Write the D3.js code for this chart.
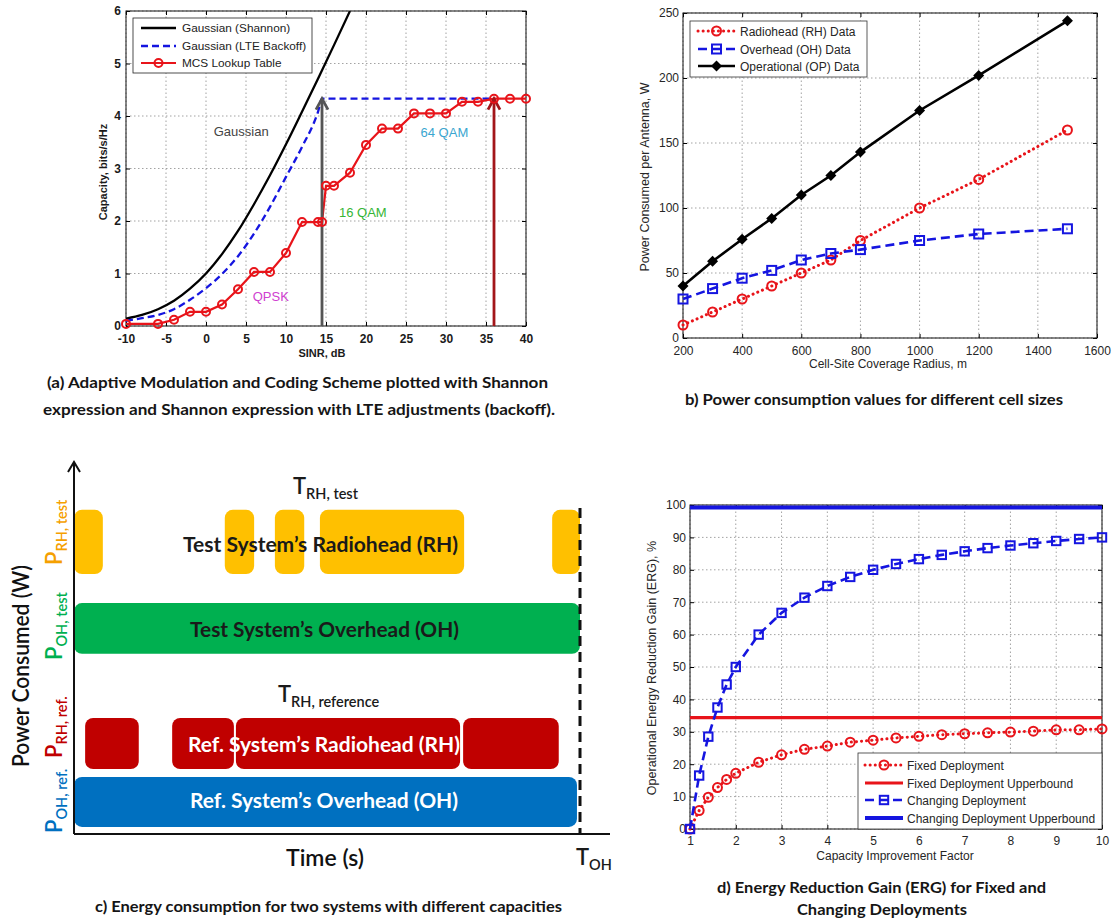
<!DOCTYPE html>
<html><head><meta charset="utf-8">
<script src="https://cdn.jsdelivr.net/npm/d3@7"></script>
<style>
body{margin:0;background:#fff;}
svg{display:block;}
</style></head>
<body><svg id="fig" width="1114" height="923"></svg>
<script>
// ---------- (a) capacity vs SINR ----------
const sinrTicks = [-10,-5,0,5,10,15,20,25,30,35,40];
const capTicks = [0,1,2,3,4,5,6];
const shannonSinr = [-10,-8,-6,-4,-2,0,2,4,6,8,10,12,14,16,18];
const shannonCap  = [0.14,0.21,0.32,0.48,0.71,1.0,1.37,1.81,2.32,2.87,3.46,4.08,4.71,5.35,6.0];
const lteSinr = [-10,-8,-6,-4,-2,0,2,4,6,8,10,12,14,14.5,36];
const lteCap  = [0.10,0.15,0.21,0.32,0.5,0.72,0.99,1.33,1.76,2.27,2.84,3.41,4.08,4.33,4.33];
const mcsSinr = [-10,-6,-4,-2,0,2,4,6,8,10,12,14,14.5,15,16,18,20,22,24,26,28,30,32,34,36,38,40];
const mcsCap  = [0.04,0.04,0.12,0.27,0.27,0.41,0.70,1.03,1.03,1.39,1.98,1.98,1.98,2.67,2.67,2.92,3.45,3.76,3.76,4.05,4.05,4.05,4.27,4.27,4.33,4.33,4.33];
const switchPoints = [14.5, 36];           // SINR where the capped curves level off
const switchCap = 4.33;
const modLabels = [
  {text:"Gaussian", sinr:4.4, cap:3.7, color:"#444"},
  {text:"QPSK", sinr:8.1, cap:0.57, color:"#d040d0"},
  {text:"16 QAM", sinr:19.6, cap:2.17, color:"#35b535"},
  {text:"64 QAM", sinr:29.8, cap:3.68, color:"#3aa6d0"}
];
const legendA = ["Gaussian (Shannon)","Gaussian (LTE Backoff)","MCS Lookup Table"];

// ---------- (b) power vs cell radius ----------
const radius = [200,300,400,500,600,700,800,1000,1200,1500];
const rhPower = [10,20,30,40,50,60,75,100,122,160];
const ohPower = [30,38,46,52,60,65,68,75,80,84];
const opPower = [40,59,76,92,110,125,143,175,202,244];
const radiusTicks = [200,400,600,800,1000,1200,1400,1600];
const powerTicks = [0,50,100,150,200,250];
const legendB = ["Radiohead (RH) Data","Overhead (OH) Data","Operational (OP) Data"];

// ---------- (c) on-times of the two systems ----------
const tOH = 100;
const rhTestOn = [[0,5.7],[29.8,35.6],[39.7,45.5],[48.6,77.1],[94.5,100]];
const ohTestOn = [[0,100]];
const rhRefOn  = [[2.2,12.8],[19.4,31.6],[32.0,76.3],[76.9,95.8]];
const ohRefOn  = [[0,99.4]];
const rowLevels = {rhTest:[69.7,86.9], ohTest:[48.3,61.9], rhRef:[17.4,31.1], ohRef:[1.9,15.3]};

// ---------- (d) ERG vs capacity improvement ----------
const capFactor = [1,1.2,1.4,1.6,1.8,2,2.5,3,3.5,4,4.5,5,5.5,6,6.5,7,7.5,8,8.5,9,9.5,10];
const ergFixed  = [0,5.7,9.8,12.8,15.3,17.2,20.6,22.9,24.6,25.6,26.8,27.4,28.1,28.6,29.1,29.4,29.7,29.9,30.2,30.6,30.6,30.9];
const ergChanging = [0,16.5,28.5,37.5,44.6,50,60,66.7,71.4,75,77.8,80,81.8,83.3,84.6,85.7,86.7,87.5,88.2,88.9,89.5,90];
const ergFixedBound = 34.4;
const ergChangingBound = 99.2;
const factorTicks = [1,2,3,4,5,6,7,8,9,10];
const ergTicks = [0,10,20,30,40,50,60,70,80,90,100];
const legendD = ["Fixed Deployment","Fixed Deployment Upperbound","Changing Deployment","Changing Deployment Upperbound"];

const svg = d3.select("#fig");
const AX_FONT = "Arial, 'Liberation Sans', Helvetica, sans-serif";
const CAP_FONT = "Lato, 'Open Sans', sans-serif";
const RED = "#e8141a", BLUE = "#1515e0";
const plain = d => String(d);

// MATLAB-style axes: dotted grid, inward ticks on all four sides, boxed frame
function matlabAxes(g, x, y, xTicks, yTicks, o) {
  const [x0,x1] = x.range(), [y0,y1] = y.range();
  const grid = g.append("g").attr("stroke","#8c8c8c").attr("stroke-width",0.8).attr("stroke-dasharray","1.5,2.5");
  grid.selectAll(".gx").data(xTicks).join("line")
    .attr("x1",d=>x(d)).attr("x2",d=>x(d)).attr("y1",y0).attr("y2",y1);
  grid.selectAll(".gy").data(yTicks).join("line")
    .attr("y1",d=>y(d)).attr("y2",d=>y(d)).attr("x1",x0).attr("x2",x1);
  const style = s => s.call(a=>a.select(".domain").remove())
    .call(a=>a.selectAll("text").attr("font-family",AX_FONT).attr("font-size",o.fs)
      .attr("font-weight",o.bold?"bold":"normal").attr("fill",o.color));
  g.append("g").attr("transform",`translate(0,${y0})`)
    .call(d3.axisBottom(x).tickValues(xTicks).tickFormat(plain).tickSizeInner(-4).tickSizeOuter(0).tickPadding(o.xpad)).call(style);
  g.append("g").attr("transform",`translate(${x0},0)`)
    .call(d3.axisLeft(y).tickValues(yTicks).tickFormat(plain).tickSizeInner(-4).tickSizeOuter(0).tickPadding(o.ypad)).call(style);
  g.append("g").attr("transform",`translate(0,${y1})`)
    .call(d3.axisTop(x).tickValues(xTicks).tickSizeInner(-4).tickSizeOuter(0).tickFormat("")).call(style);
  g.append("g").attr("transform",`translate(${x1},0)`)
    .call(d3.axisRight(y).tickValues(yTicks).tickSizeInner(-4).tickSizeOuter(0).tickFormat("")).call(style);
  g.append("rect").attr("x",x0).attr("y",y1).attr("width",x1-x0).attr("height",y0-y1)
    .attr("fill","none").attr("stroke","#111").attr("stroke-width",1);
}

function axisLabel(g, text, x, y, rot, fs, bold, color) {
  g.append("text").attr("transform",`translate(${x},${y}) rotate(${rot})`)
    .attr("text-anchor","middle").attr("font-family",AX_FONT).attr("font-size",fs)
    .attr("font-weight",bold?"bold":"normal").attr("fill",color).text(text);
}

function caption(text, x0, x1, baseline) {
  svg.append("text").attr("x",(x0+x1)/2).attr("y",baseline).attr("text-anchor","middle")
    .attr("font-family",CAP_FONT).attr("font-weight","bold").attr("font-size",15.5).attr("fill","#151515")
    .attr("textLength",x1-x0).attr("lengthAdjust","spacingAndGlyphs").text(text);
}

function marker(g, kind, cx, cy, color, size) {
  if (kind==="circle") g.append("circle").attr("cx",cx).attr("cy",cy).attr("r",size)
      .attr("fill","none").attr("stroke",color).attr("stroke-width",2);
  else if (kind==="square") g.append("rect").attr("x",cx-size).attr("y",cy-size)
      .attr("width",2*size).attr("height",2*size).attr("fill","none").attr("stroke",color).attr("stroke-width",2);
  else if (kind==="diamond") g.append("path")
      .attr("d",`M${cx},${cy-size}L${cx+size},${cy}L${cx},${cy+size}L${cx-size},${cy}Z`).attr("fill",color);
}

// ============ (a) ============
{
  const g = svg.append("g");
  const x = d3.scaleLinear().domain([-10,40]).range([126,526]);
  const y = d3.scaleLinear().domain([0,6]).range([326,11]);
  matlabAxes(g,x,y,sinrTicks,capTicks,{fs:12,bold:true,color:"#1a1a1a",xpad:8,ypad:5});
  axisLabel(g,"Capacity, bits/s/Hz",107,172,-90,11,true,"#1a1a1a");
  axisLabel(g,"SINR, dB",322,357,0,11,true,"#1a1a1a");

  svg.append("defs").append("clipPath").attr("id","clipA")
    .append("rect").attr("x",126).attr("y",11).attr("width",400).attr("height",315);
  const plot = g.append("g").attr("clip-path","url(#clipA)");
  const smooth = d3.line().x(d=>x(d[0])).y(d=>y(d[1])).curve(d3.curveMonotoneX);
  plot.append("path").datum(d3.zip(shannonSinr,shannonCap))
    .attr("d",smooth).attr("fill","none").attr("stroke","#000").attr("stroke-width",2.3);
  plot.append("path").datum(d3.zip(lteSinr,lteCap))
    .attr("d",smooth).attr("fill","none").attr("stroke",BLUE).attr("stroke-width",2.3).attr("stroke-dasharray","7,4");

  // switching arrows
  const arrowColors = ["#555","#a3161a"];
  switchPoints.forEach((s,i)=>{
    const ax = x(s), top = y(switchCap), bot = y(0);
    g.append("line").attr("x1",ax).attr("x2",ax).attr("y1",bot).attr("y2",top+1)
      .attr("stroke",arrowColors[i]).attr("stroke-width",2.8);
    g.append("path").attr("d",`M${ax-6},${top+11}L${ax},${top}L${ax+6},${top+11}`)
      .attr("fill","none").attr("stroke",arrowColors[i]).attr("stroke-width",2.8);
  });

  plot.append("path").datum(d3.zip(mcsSinr,mcsCap))
    .attr("d",d3.line().x(d=>x(d[0])).y(d=>y(d[1])))
    .attr("fill","none").attr("stroke",RED).attr("stroke-width",2.2);
  const mg = g.append("g");
  d3.zip(mcsSinr,mcsCap).forEach(d=>marker(mg,"circle",x(d[0]),y(d[1]),RED,4));

  modLabels.forEach(m=>g.append("text").attr("x",x(m.sinr)).attr("y",y(m.cap)+4.5)
    .attr("text-anchor","middle").attr("font-family",AX_FONT).attr("font-size",13).attr("fill",m.color).text(m.text));

  // legend
  const lg = g.append("g");
  lg.append("rect").attr("x",133).attr("y",18).attr("width",179).attr("height",55)
    .attr("fill","#fff").attr("stroke","#222").attr("stroke-width",0.8);
  const ly = [28,46,63];
  lg.append("line").attr("x1",141).attr("x2",176).attr("y1",ly[0]).attr("y2",ly[0]).attr("stroke","#000").attr("stroke-width",2.3);
  lg.append("line").attr("x1",141).attr("x2",176).attr("y1",ly[1]).attr("y2",ly[1]).attr("stroke",BLUE).attr("stroke-width",2.3).attr("stroke-dasharray","7,4");
  lg.append("line").attr("x1",141).attr("x2",176).attr("y1",ly[2]).attr("y2",ly[2]).attr("stroke",RED).attr("stroke-width",2.2);
  marker(lg,"circle",158.5,ly[2],RED,4);
  legendA.forEach((t,i)=>lg.append("text").attr("x",182).attr("y",ly[i]+4).attr("font-family",AX_FONT)
    .attr("font-size",11.8).attr("fill","#222").text(t));
}

// ============ (b) ============
{
  const g = svg.append("g");
  const x = d3.scaleLinear().domain([200,1600]).range([683,1097]);
  const y = d3.scaleLinear().domain([0,250]).range([338,13]);
  matlabAxes(g,x,y,radiusTicks,powerTicks,{fs:12,bold:false,color:"#262626",xpad:8,ypad:4});
  axisLabel(g,"Power Consumed per Antenna, W",649,177,-90,12.5,false,"#262626");
  axisLabel(g,"Cell-Site Coverage Radius, m",888,368,0,12,false,"#262626");
  const line = d3.line().x(d=>x(d[0])).y(d=>y(d[1]));
  const series = [
    {vals:rhPower,color:RED,dash:"0.1,5",cap:"round",kind:"circle",size:4.5,w:3},
    {vals:ohPower,color:BLUE,dash:"9,5",cap:"butt",kind:"square",size:4.5,w:2.6},
    {vals:opPower,color:"#000",dash:null,cap:"butt",kind:"diamond",size:5.5,w:2.6}
  ];
  series.forEach(s=>{
    g.append("path").datum(d3.zip(radius,s.vals)).attr("d",line).attr("fill","none")
      .attr("stroke",s.color).attr("stroke-width",s.w).attr("stroke-linecap",s.cap)
      .attr("stroke-dasharray",s.dash);
    const mg = g.append("g");
    d3.zip(radius,s.vals).forEach(d=>marker(mg,s.kind,x(d[0]),y(d[1]),s.color,s.size));
  });
  // legend
  const lg = g.append("g");
  lg.append("rect").attr("x",690).attr("y",21).attr("width",177).attr("height",56)
    .attr("fill","#fff").attr("stroke","#333").attr("stroke-width",0.8);
  const ly = [31,49,66];
  series.forEach((s,i)=>{
    lg.append("line").attr("x1",698).attr("x2",735).attr("y1",ly[i]).attr("y2",ly[i])
      .attr("stroke",s.color).attr("stroke-width",s.w).attr("stroke-dasharray",s.dash)
      .attr("stroke-linecap",s.cap);
    marker(lg,s.kind,716.5,ly[i],s.color,s.size);
    lg.append("text").attr("x",740).attr("y",ly[i]+4.5).attr("font-family",AX_FONT)
      .attr("font-size",12).attr("fill","#262626").text(legendB[i]);
  });
}

// ============ (c) ============
{
  const g = svg.append("g");
  const t = d3.scaleLinear().domain([0,tOH]).range([74,580]);
  const p = d3.scaleLinear().domain([0,100]).range([834,461]);
  const rows = [
    {on:rhTestOn, lv:rowLevels.rhTest, fill:"#ffc000"},
    {on:ohTestOn, lv:rowLevels.ohTest, fill:"#00b050"},
    {on:rhRefOn,  lv:rowLevels.rhRef,  fill:"#c00000"},
    {on:ohRefOn,  lv:rowLevels.ohRef,  fill:"#0070c0"}
  ];
  rows.forEach(r=>{
    g.append("g").selectAll("rect").data(r.on).join("rect")
      .attr("x",d=>t(d[0])).attr("width",d=>t(d[1])-t(d[0]))
      .attr("y",p(r.lv[1])).attr("height",p(r.lv[0])-p(r.lv[1]))
      .attr("rx",8).attr("fill",r.fill);
  });
  // T_OH marker
  g.append("line").attr("x1",t(tOH)).attr("x2",t(tOH)).attr("y1",508).attr("y2",834)
    .attr("stroke","#111").attr("stroke-width",3).attr("stroke-dasharray","10,6");
  // axes
  g.append("line").attr("x1",74).attr("x2",610).attr("y1",834).attr("y2",834).attr("stroke","#111").attr("stroke-width",2);
  g.append("line").attr("x1",74).attr("x2",74).attr("y1",834).attr("y2",462).attr("stroke","#111").attr("stroke-width",2);
  g.append("path").attr("d","M68,472L74,462L80,472").attr("fill","none").attr("stroke","#111").attr("stroke-width",2);

  const boxText = [
    {text:"Test System\u2019s Radiohead (RH)", x0:183, x1:458, y:552, color:"#1a1a1a"},
    {text:"Test System\u2019s Overhead (OH)", x0:190, x1:459, y:637, color:"#1a1a1a"},
    {text:"Ref. System\u2019s Radiohead (RH)", x0:188, x1:460, y:752, color:"#fff"},
    {text:"Ref. System\u2019s Overhead (OH)", x0:190, x1:458, y:808, color:"#fff"}
  ];
  boxText.forEach(b=>g.append("text").attr("x",(b.x0+b.x1)/2).attr("y",b.y).attr("text-anchor","middle")
    .attr("font-family",CAP_FONT).attr("font-weight","bold").attr("font-size",21).attr("fill",b.color)
    .attr("textLength",b.x1-b.x0).attr("lengthAdjust","spacingAndGlyphs").text(b.text));

  // subscripted symbols
  function sym(x,y,rot,main,sub,color,fsMain,fsSub) {
    const tx = g.append("text").attr("transform",`translate(${x},${y}) rotate(${rot})`)
      .attr("font-family",CAP_FONT).attr("font-weight",600).attr("fill",color);
    tx.append("tspan").attr("font-size",fsMain).text(main);
    tx.append("tspan").attr("font-size",fsSub).attr("dy",5).text(sub);
  }
  sym(62,565,-90,"P","RH, test","#f5a000",22,14.5);
  sym(62,660,-90,"P","OH, test","#00b050",22,14.5);
  sym(62,758,-90,"P","RH, ref.","#c00000",22,14.5);
  sym(62,833,-90,"P","OH, ref.","#0070c0",22,14.5);
  sym(293,494,0,"T","RH, test","#1a1a1a",22,14.5);
  sym(278,702,0,"T","RH, reference","#1a1a1a",22,14.5);
  sym(576,865,0,"T","OH","#1a1a1a",22,14.5);

  g.append("text").attr("transform","translate(29,666) rotate(-90)").attr("text-anchor","middle")
    .attr("font-family",CAP_FONT).attr("font-weight",600).attr("font-size",23).attr("fill","#111")
    .attr("textLength",202).attr("lengthAdjust","spacingAndGlyphs").text("Power Consumed (W)");
  g.append("text").attr("x",325).attr("y",866).attr("text-anchor","middle")
    .attr("font-family",CAP_FONT).attr("font-weight",600).attr("font-size",23).attr("fill","#111").text("Time (s)");
}

// ============ (d) ============
{
  const g = svg.append("g");
  const x = d3.scaleLinear().domain([1,10]).range([690,1102]);
  const y = d3.scaleLinear().domain([0,100]).range([829,505]);
  matlabAxes(g,x,y,factorTicks,ergTicks,{fs:12,bold:false,color:"#262626",xpad:7,ypad:4});
  axisLabel(g,"Operational Energy Reduction Gain (ERG), %",656,668,-90,12.5,false,"#262626");
  axisLabel(g,"Capacity Improvement Factor",895,860,0,12,false,"#262626");
  const line = d3.line().x(d=>x(d[0])).y(d=>y(d[1]));
  const bounds = [{v:ergFixedBound,color:RED,w:3.2},{v:ergChangingBound,color:BLUE,w:4}];
  bounds.forEach(b=>g.append("line").attr("x1",x(1)).attr("x2",x(10)).attr("y1",y(b.v)).attr("y2",y(b.v))
    .attr("stroke",b.color).attr("stroke-width",b.w));
  const series = [
    {vals:ergFixed,color:RED,dash:"0.1,5",kind:"circle",size:4.5,w:3,cap:"round"},
    {vals:ergChanging,color:BLUE,dash:"9,5",kind:"square",size:4.2,w:2.6,cap:"butt"}
  ];
  series.forEach(s=>{
    g.append("path").datum(d3.zip(capFactor,s.vals)).attr("d",line).attr("fill","none")
      .attr("stroke",s.color).attr("stroke-width",s.w).attr("stroke-dasharray",s.dash).attr("stroke-linecap",s.cap);
    const mg = g.append("g");
    d3.zip(capFactor,s.vals).forEach(d=>marker(mg,s.kind,x(d[0]),y(d[1]),s.color,s.size));
  });
  // legend
  const lg = g.append("g");
  lg.append("rect").attr("x",858).attr("y",753).attr("width",244).attr("height",76)
    .attr("fill","#fff").attr("stroke","#333").attr("stroke-width",0.8);
  const ly = [765,783,800,818];
  const entries = [
    {color:RED,dash:"0.1,5",w:3,cap:"round",kind:"circle",size:4.5},
    {color:RED,dash:null,w:3.2,cap:"butt",kind:null},
    {color:BLUE,dash:"9,5",w:2.6,cap:"butt",kind:"square",size:4.2},
    {color:BLUE,dash:null,w:4,cap:"butt",kind:null}
  ];
  entries.forEach((e,i)=>{
    lg.append("line").attr("x1",865).attr("x2",903).attr("y1",ly[i]).attr("y2",ly[i])
      .attr("stroke",e.color).attr("stroke-width",e.w).attr("stroke-dasharray",e.dash).attr("stroke-linecap",e.cap);
    if (e.kind) marker(lg,e.kind,884,ly[i],e.color,e.size);
    lg.append("text").attr("x",907).attr("y",ly[i]+4.5).attr("font-family",AX_FONT)
      .attr("font-size",12).attr("fill","#262626").text(legendD[i]);
  });
}

// ============ captions ============
caption("(a) Adaptive Modulation and Coding Scheme plotted with Shannon",47,548,388);
caption("expression and Shannon expression with LTE adjustments (backoff).",43,555,415);
caption("b) Power consumption values for different cell sizes",685,1063,405);
caption("c) Energy consumption for two systems with different capacities",95,562,912);
caption("d) Energy Reduction Gain (ERG) for Fixed and",717,1046,893);
caption("Changing Deployments",797,967,915);
</script>
</body></html>
